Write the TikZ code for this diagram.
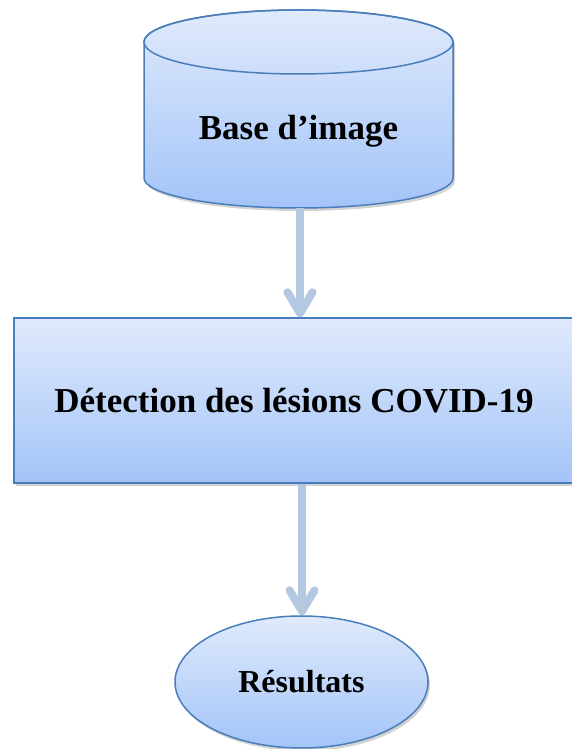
\documentclass[tikz,border=0pt]{standalone}
\usepackage{fontspec}
\setmainfont{Liberation Serif}
\usetikzlibrary{arrows.meta,shadows,shapes.geometric}
\definecolor{gtop}{RGB}{224,234,252}
\definecolor{gbot}{RGB}{163,196,248}
\definecolor{bord}{RGB}{74,126,187}
\definecolor{arr}{RGB}{180,200,226}
\tikzset{
  boxfill/.style={top color=gtop, bottom color=gbot, draw=bord, line width=1.5pt,
    drop shadow={opacity=0.35, shadow xshift=2pt, shadow yshift=-3pt}},
  lbl/.style={font=\fontsize{35}{40}\selectfont\bfseries, text=black},
  flow/.style={draw=arr, line width=8pt,
    -{Straight Barb[length=21pt, width=25pt, line width=8pt, round]}}
}
\begin{document}
\begin{tikzpicture}[x=1pt,y=1pt]
\useasboundingbox (0,0) rectangle (571,749);
% cylinder body
\path[boxfill] (144,707) -- (144,571)
  arc[start angle=180,end angle=360,x radius=154.5,y radius=30]
  -- (453,707)
  arc[start angle=0,end angle=180,x radius=154.5,y radius=32] -- cycle;
\draw[bord, line width=1.5pt] (298.5,707) ellipse[x radius=154.5,y radius=32];
\node[lbl, minimum width=309pt, minimum height=154pt, inner sep=0pt] (db) at (298.5,618) {Base d’image};
% rectangle
\node[boxfill, lbl, rectangle, minimum width=560pt, minimum height=165pt, inner sep=0pt] (det) at (294,348.5) {\raisebox{-2pt}{Détection des lésions COVID-19}};
% ellipse
\node[boxfill, lbl, ellipse, minimum width=253pt, minimum height=132pt, inner sep=0pt, font=\fontsize{32}{38}\selectfont\bfseries] (res) at (301.5,67) {\raisebox{-5pt}{Résultats}};
% arrows
\draw[flow] (db.south -| 300,0) -- (det.north -| 300,0);
\draw[flow] (det.south -| 302,0) -- (res.north -| 302,0);
\end{tikzpicture}
\end{document}
